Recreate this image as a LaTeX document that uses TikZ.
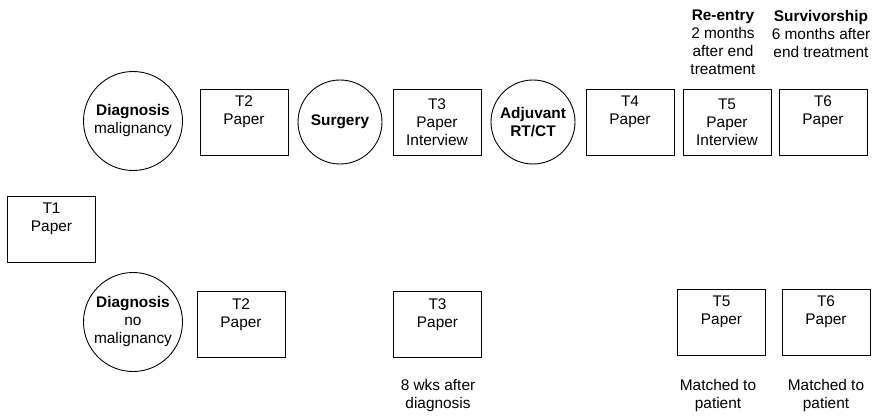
\documentclass[tikz,border=0pt]{standalone}
\usepackage{fontspec}
\setmainfont{Liberation Sans}
\begin{document}
\begin{tikzpicture}[x=1pt,y=-1pt,
  every node/.style={font=\fontsize{15.4}{18}\selectfont, align=center, inner sep=0pt},
  tbox/.style={draw, line width=0.9pt, minimum width=88pt, minimum height=66pt},
  bigcirc/.style={draw, circle, line width=0.9pt, minimum size=99pt},
  smallcirc/.style={draw, circle, line width=0.9pt, minimum size=84pt},
  note/.style={}]
\useasboundingbox (0,0) rectangle (876,417);
% top row
\node[bigcirc] (dm) at (133,121) {\textbf{Diagnosis}\\malignancy};
\node[tbox] (t2a) at (244,122) {T2\\Paper\\\strut};
\node[smallcirc] (surg) at (340,122) {\textbf{Surgery}};
\node[tbox] (t3a) at (437,122) {T3\\Paper\\Interview};
\node[smallcirc] (adj) at (533,122) {\textbf{Adjuvant}\\\textbf{RT/CT}};
\node[tbox] (t4a) at (630,122) {T4\\Paper\\\strut};
\node[tbox] (t5a) at (727,122) {T5\\Paper\\Interview};
\node[tbox] (t6a) at (823,122) {T6\\Paper\\\strut};
\node[note] (reentry) at (723,42.5) {\textbf{Re-entry}\\2 months\\after end\\treatment};
\node[note] (surv) at (821,33.5) {\textbf{Survivorship}\\6 months after\\end treatment};
% middle
\node[tbox] (t1) at (51.5,229) {T1\\Paper\\\strut};
% bottom row
\node[bigcirc] (dn) at (133,322) {\textbf{Diagnosis}\\no\\malignancy};
\node[tbox] (t2b) at (241,324.5) {T2\\Paper\\\strut};
\node[tbox] (t3b) at (437.5,324.5) {T3\\Paper\\\strut};
\node[tbox] (t5b) at (721.5,322) {T5\\Paper\\\strut};
\node[tbox] (t6b) at (826,322) {T6\\Paper\\\strut};
\node[note] (n3) at (438,396) {8 wks after\\diagnosis};
\node[note] (n5) at (718,396) {Matched to\\patient};
\node[note] (n6) at (826,396) {Matched to\\patient};
\end{tikzpicture}
\end{document}
